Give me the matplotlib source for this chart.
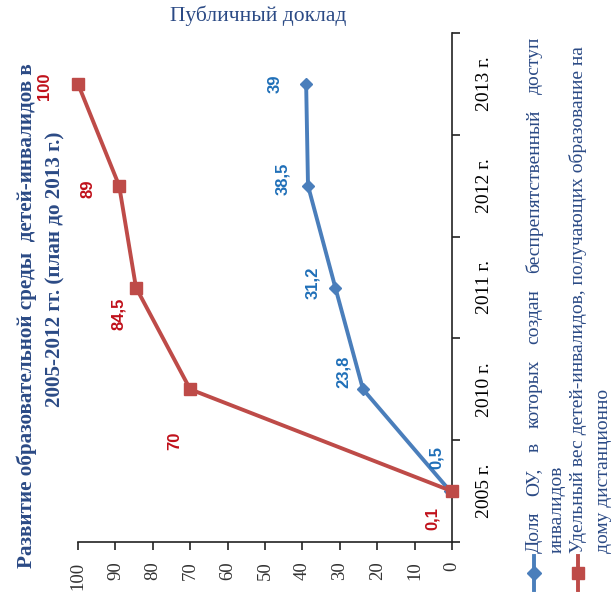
import matplotlib.pyplot as plt
from matplotlib.lines import Line2D

years = ['2005 г.', '2010 г.', '2011 г.', '2012 г.', '2013 г.']
access_share = [0.5, 23.8, 31.2, 38.5, 39]
access_text = ['0,5', '23,8', '31,2', '38,5', '39']
distance_share = [0.1, 70, 84.5, 89, 100]
distance_text = ['0,1', '70', '84,5', '89', '100']
value_ticks = list(range(0, 101, 10))

title_lines = ['Развитие образовательной среды  детей-инвалидов в',
               '2005-2012 гг. (план до 2013 г.)']
legend_lines = [['Доля ОУ, в которых создан беспрепятственный доступ', 'инвалидов'],
                ['Удельный вес детей-инвалидов, получающих образование на', 'дому дистанционно']]

# label offsets in pixels (dx, dy), picture is rotated so labels sit "above" the points
access_off = [(-14, 34), (-20, 17), (-23, 5), (-25, 7), (-31, 0)]
distance_off = [(-19, -27), (-15, -52), (-17, -26), (-31, -3), (-33, -2)]

BLUE = '#4A7EBB'
RED = '#BE4B48'
BLUE_LBL = '#1F6FB8'
RED_LBL = '#C0101A'
NAVY = '#2B4A85'
SERIF = 'Liberation Serif'
LEG_FS = 14

W, H = 613, 597
fig = plt.figure(figsize=(W / 100, H / 100), dpi=100)
ax = fig.add_axes([78 / W, 1 - 542 / H, (452 - 78) / W, (542 - 33) / H])

pos = list(range(len(years)))
ax.plot(access_share, pos, color=BLUE, lw=2.8, marker='D', ms=6.5, zorder=3, clip_on=False)
ax.plot(distance_share, pos, color=RED, lw=2.8, marker='s', ms=8, zorder=4, clip_on=False)

for v, p, t, (dx, dy) in zip(access_share, pos, access_text, access_off):
    ax.annotate(t, (v, p), xytext=(dx, dy), textcoords='offset pixels', rotation=90,
                ha='center', va='center', color=BLUE_LBL, fontsize=12, fontweight='bold',
                family='Liberation Sans')
for v, p, t, (dx, dy) in zip(distance_share, pos, distance_text, distance_off):
    ax.annotate(t, (v, p), xytext=(dx, dy), textcoords='offset pixels', rotation=90,
                ha='center', va='center', color=RED_LBL, fontsize=12, fontweight='bold',
                family='Liberation Sans')

ax.set_xlim(100, 0)
ax.set_ylim(-0.5, len(years) - 0.5)
for s in ['left', 'top']:
    ax.spines[s].set_visible(False)
for s in ['bottom', 'right']:
    ax.spines[s].set_color('#222222')
    ax.spines[s].set_linewidth(1.2)

ax.set_xticks(value_ticks)
ax.set_xticklabels([str(v) for v in value_ticks], rotation=90, va='top',
                   family=SERIF, fontsize=13.5, color='#333333')
ax.tick_params(axis='x', length=6, width=1.2, color='#222222', pad=8)

ax.yaxis.tick_right()
ax.set_yticks(pos)
ax.set_yticklabels(years, rotation=90, va='center', ha='left', family=SERIF, fontsize=14)
ax.set_yticks([p - 0.5 for p in pos] + [len(years) - 0.5], minor=True)
ax.tick_params(axis='y', which='major', length=0, pad=17)
ax.tick_params(axis='y', which='minor', length=6, width=1.2, color='#222222', direction='out')

fig.text(258 / W, 1 - 16 / H, 'Публичный доклад', ha='center', va='center',
         family=SERIF, fontsize=15.5, color=NAVY)

fig.text(27 / W, 1 - 316 / H, title_lines[0], rotation=90, ha='center', va='center',
         family=SERIF, fontsize=15.2, fontweight='bold', color=NAVY)
fig.text(55 / W, 1 - 269 / H, title_lines[1], rotation=90, ha='center', va='center',
         family=SERIF, fontsize=15.2, fontweight='bold', color=NAVY)

# legend, drawn by hand because it is rotated
fig.canvas.draw()
renderer = fig.canvas.get_renderer()


def justified(x, y0, y1, line):
    words = line.split()
    arts = [fig.text(x / W, 0, w, rotation=90, ha='center', va='bottom', family=SERIF,
                     fontsize=LEG_FS, color=NAVY) for w in words]
    hs = [a.get_window_extent(renderer).height for a in arts]
    gap = ((y0 - y1) - sum(hs)) / max(len(words) - 1, 1)
    y = y0
    for a, h in zip(arts, hs):
        a.set_y(1 - y / H)
        y -= h + gap


legend_x = [(534, 557), (578, 604)]
colors = [BLUE, RED]
markers = ['D', 's']
for (x1, x2), lines, c, m in zip(legend_x, legend_lines, colors, markers):
    fig.add_artist(Line2D([x1 / W, x1 / W], [1 - 556 / H, 1 - 590 / H], color=c, lw=2.8,
                          transform=fig.transFigure))
    fig.add_artist(Line2D([x1 / W], [1 - 573 / H], color=c, marker=m,
                          ms=7 if m == 'D' else 9, transform=fig.transFigure))
    if x1 == 534:
        justified(x1, 553, 37, lines[0])
    else:
        fig.text(x1 / W, 1 - 553 / H, lines[0], rotation=90, ha='center', va='bottom',
                 family=SERIF, fontsize=LEG_FS, color=NAVY)
    fig.text(x2 / W, 1 - 553 / H, lines[1], rotation=90, ha='center', va='bottom',
             family=SERIF, fontsize=LEG_FS, color=NAVY)

fig.savefig('out.png', dpi=100)
